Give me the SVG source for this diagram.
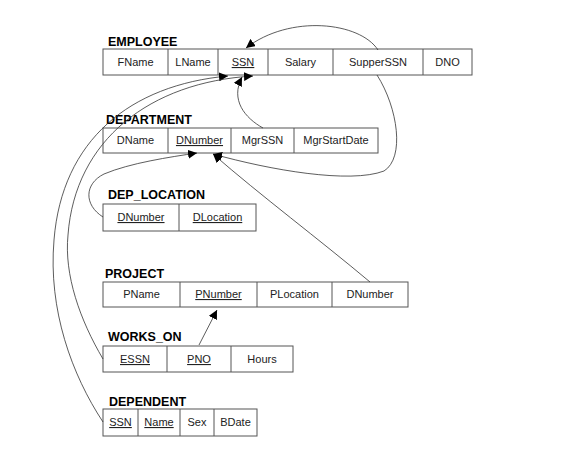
<svg xmlns="http://www.w3.org/2000/svg" width="576" height="451" viewBox="0 0 576 451">
<defs>
<marker id="ah" viewBox="0 0 10 10" refX="10" refY="5" markerWidth="9" markerHeight="9" markerUnits="userSpaceOnUse" orient="auto">
<path d="M0,0 L10,5 L0,10 z" fill="#000"/>
</marker>
<style>
.t{font-family:"Liberation Sans",Arial,sans-serif;font-size:12.5px;font-weight:bold;fill:#000}
.c{font-family:"Liberation Sans",Arial,sans-serif;font-size:11px;fill:#222;text-anchor:middle}
.u{text-decoration:underline}
.b{fill:#fff;stroke:#555;stroke-width:1}
.d{stroke:#555;stroke-width:1}
.e{fill:none;stroke:#333;stroke-width:0.8}
</style>
</defs>
<rect width="576" height="451" fill="#fff"/>

<g id="employee">
<text class="t" x="108" y="46">EMPLOYEE</text>
<rect class="b" x="103" y="49" width="369" height="26"/>
<line class="d" x1="168" y1="49" x2="168" y2="75"/>
<line class="d" x1="218" y1="49" x2="218" y2="75"/>
<line class="d" x1="268" y1="49" x2="268" y2="75"/>
<line class="d" x1="333" y1="49" x2="333" y2="75"/>
<line class="d" x1="423" y1="49" x2="423" y2="75"/>
<text class="c" x="135.5" y="66">FName</text>
<text class="c" x="193" y="66">LName</text>
<text class="c u" x="243" y="66">SSN</text>
<text class="c" x="300.5" y="66">Salary</text>
<text class="c" x="378" y="66">SupperSSN</text>
<text class="c" x="447.5" y="66">DNO</text>
</g>

<g id="department">
<text class="t" x="106" y="124">DEPARTMENT</text>
<rect class="b" x="103" y="128" width="275" height="25"/>
<line class="d" x1="168" y1="128" x2="168" y2="153"/>
<line class="d" x1="231" y1="128" x2="231" y2="153"/>
<line class="d" x1="294" y1="128" x2="294" y2="153"/>
<text class="c" x="135.5" y="144">DName</text>
<text class="c u" x="199.5" y="144">DNumber</text>
<text class="c" x="262.5" y="144">MgrSSN</text>
<text class="c" x="336" y="144">MgrStartDate</text>
</g>

<g id="dep_location">
<text class="t" x="108" y="199">DEP_LOCATION</text>
<rect class="b" x="103" y="204" width="153" height="27"/>
<line class="d" x1="179" y1="204" x2="179" y2="231"/>
<text class="c u" x="141" y="221">DNumber</text>
<text class="c u" x="217.5" y="221">DLocation</text>
</g>

<g id="project">
<text class="t" x="105" y="278">PROJECT</text>
<rect class="b" x="103" y="282" width="305" height="25"/>
<line class="d" x1="180" y1="282" x2="180" y2="307"/>
<line class="d" x1="257" y1="282" x2="257" y2="307"/>
<line class="d" x1="332" y1="282" x2="332" y2="307"/>
<text class="c" x="141.5" y="298">PName</text>
<text class="c u" x="218.5" y="298">PNumber</text>
<text class="c" x="294.5" y="298">PLocation</text>
<text class="c" x="370" y="298">DNumber</text>
</g>

<g id="works_on">
<text class="t" x="108" y="341">WORKS_ON</text>
<rect class="b" x="103" y="346" width="190" height="26"/>
<line class="d" x1="167" y1="346" x2="167" y2="372"/>
<line class="d" x1="231" y1="346" x2="231" y2="372"/>
<text class="c u" x="135" y="363">ESSN</text>
<text class="c u" x="199" y="363">PNO</text>
<text class="c" x="262" y="363">Hours</text>
</g>

<g id="dependent">
<text class="t" x="109" y="406">DEPENDENT</text>
<rect class="b" x="103" y="409" width="154" height="27"/>
<line class="d" x1="138" y1="409" x2="138" y2="436"/>
<line class="d" x1="180" y1="409" x2="180" y2="436"/>
<line class="d" x1="214" y1="409" x2="214" y2="436"/>
<text class="c u" x="120.5" y="426">SSN</text>
<text class="c u" x="159" y="426">Name</text>
<text class="c" x="197" y="426">Sex</text>
<text class="c" x="235.5" y="426">BDate</text>
</g>

<g id="connectors">
<path class="e" d="M378,50 C360,22 290,14 246,48" marker-end="url(#ah)"/>
<path class="e" d="M377,75 C398,108 405,158 384,171 C350,184 270,170 213,154" marker-end="url(#ah)"/>
<path class="e" d="M263,128 C245,118 230,100 242,77" marker-end="url(#ah)"/>
<path class="e" d="M103,217 C84,205 84,184 104,174 C130,163 170,157 197,153" marker-end="url(#ah)"/>
<path class="e" d="M370,282 C320,240 260,195 213,154" marker-end="url(#ah)"/>
<path class="e" d="M199,345 L217,310" marker-end="url(#ah)"/>
<path class="e" d="M103,422 C72,375 48,310 54,240 C62,140 130,85 228,76" marker-end="url(#ah)"/>
<path class="e" d="M103,359 C80,320 64,275 68,235 C75,140 150,82 253,76" marker-end="url(#ah)"/>
</g>
</svg>
